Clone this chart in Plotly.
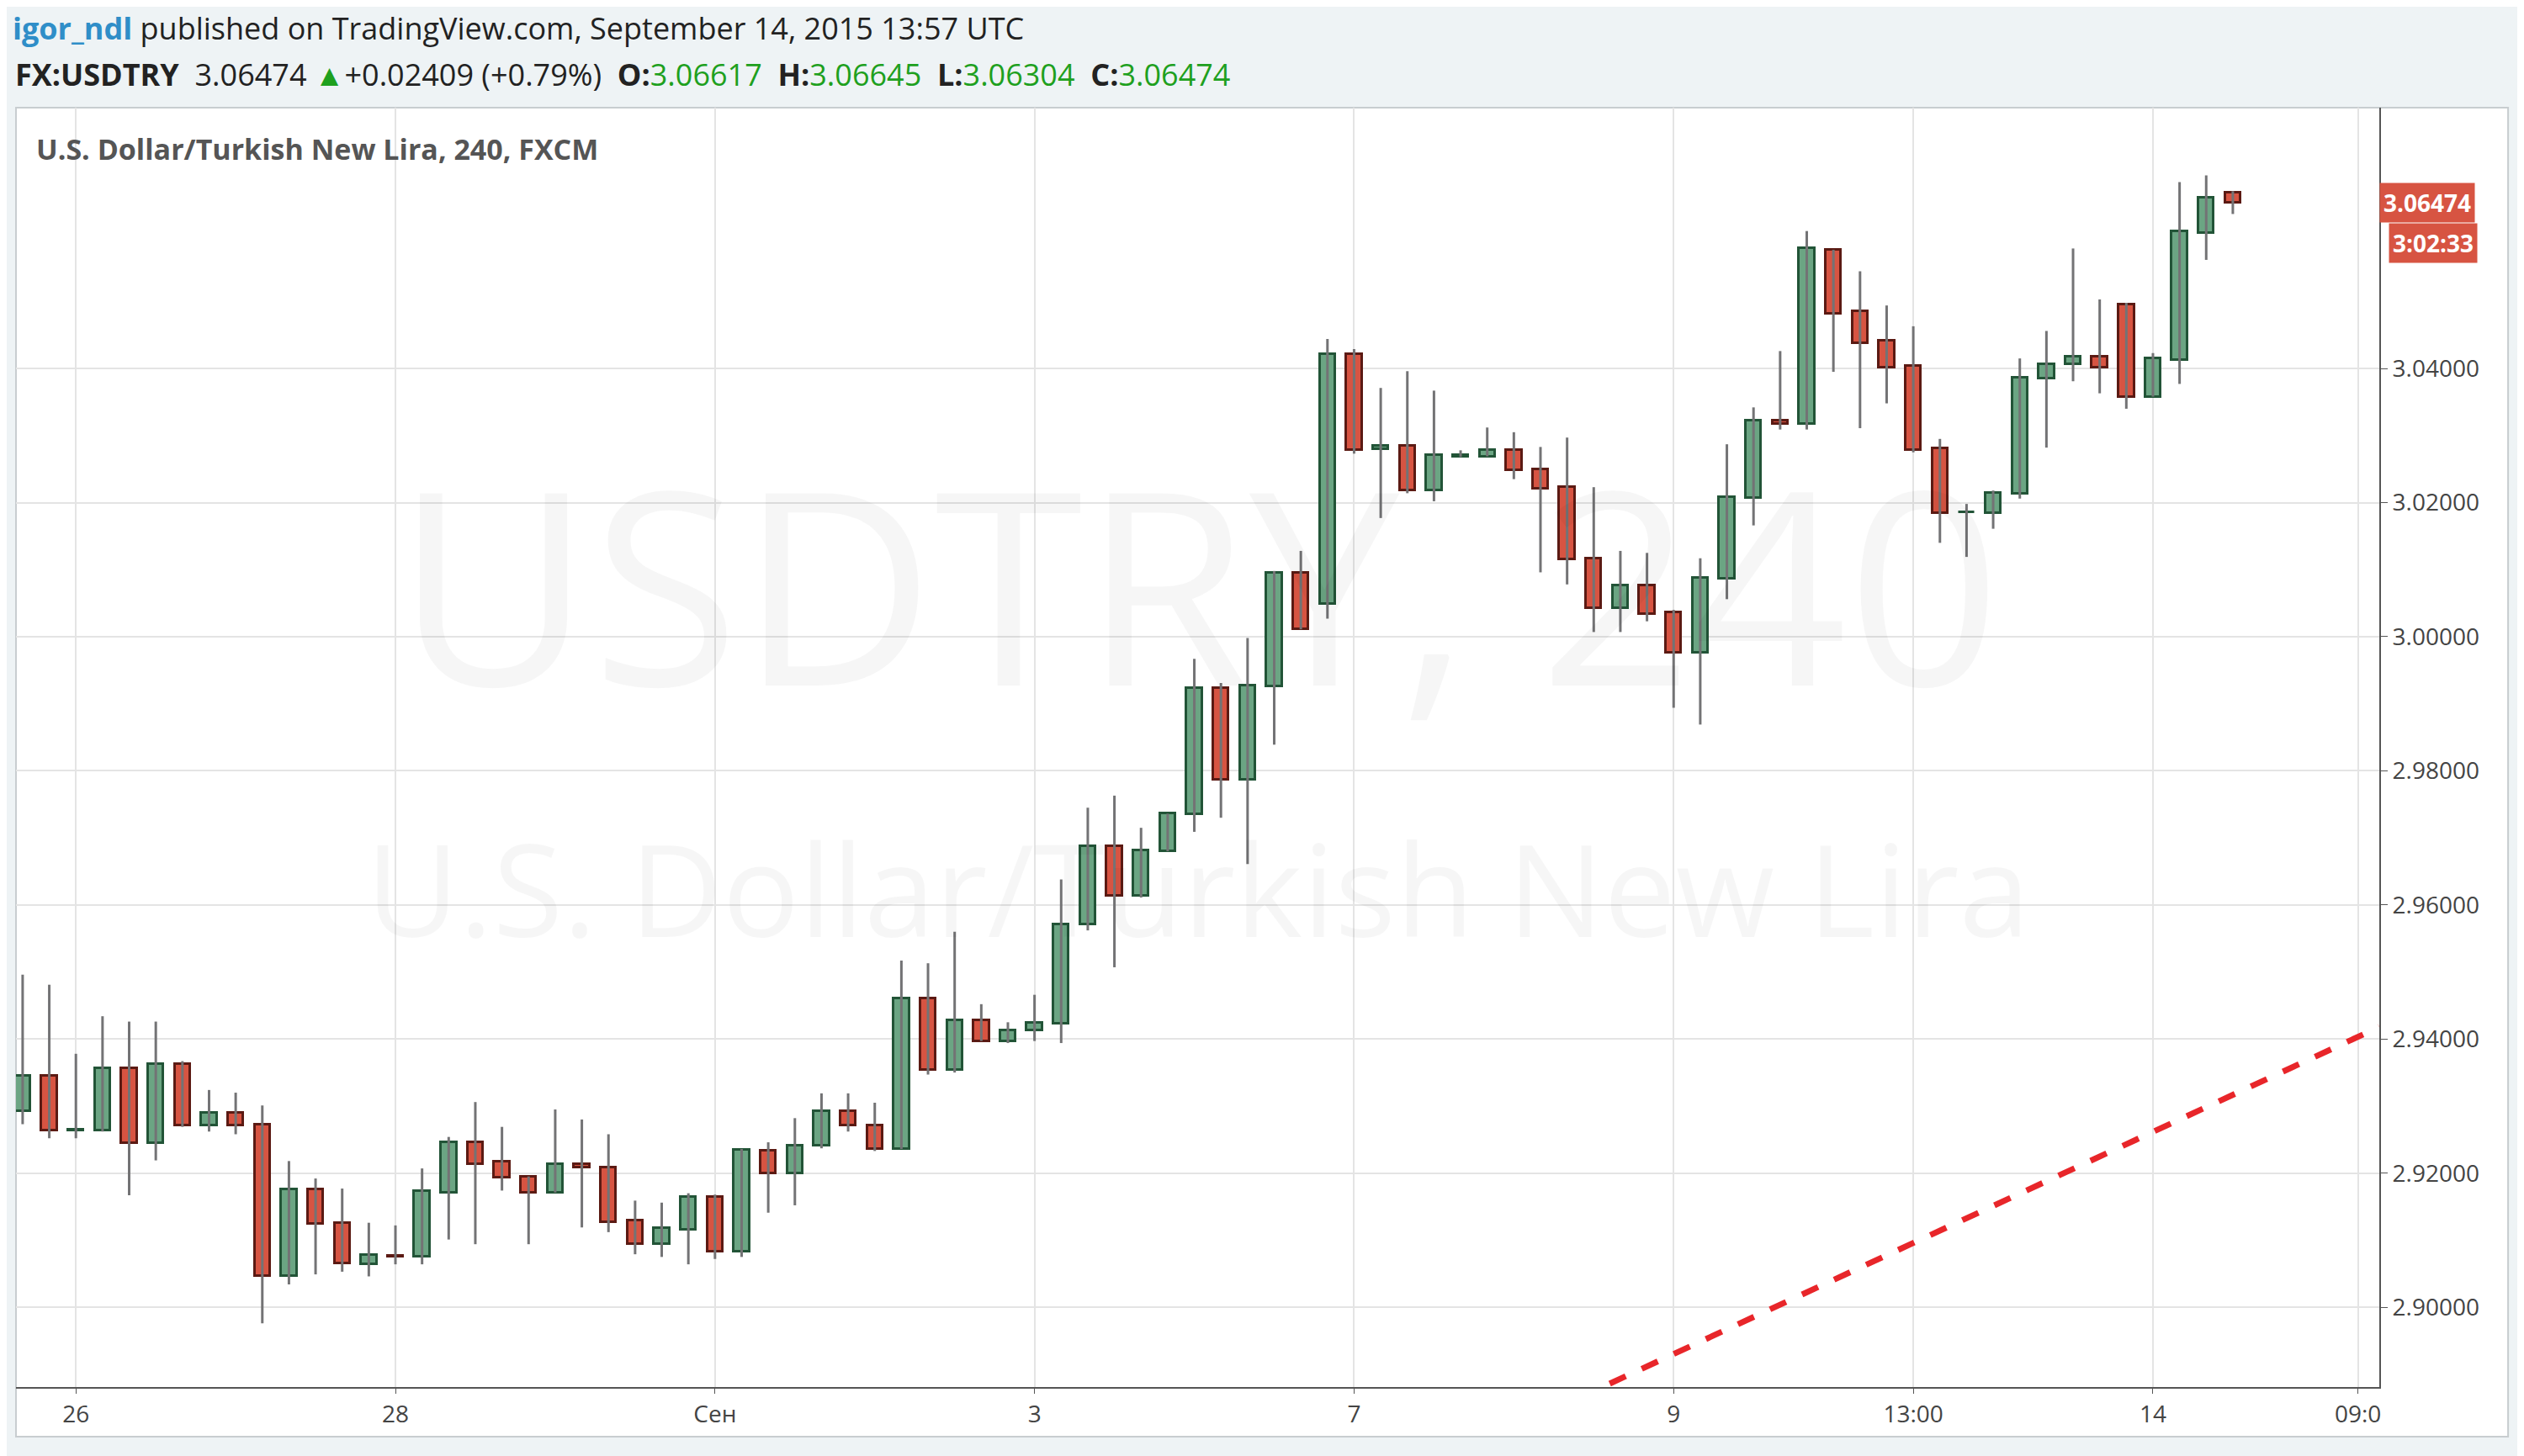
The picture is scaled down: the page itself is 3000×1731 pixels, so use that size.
import plotly.graph_objects as go

# 4h candles, USD/TRY, Aug 25 - Sep 14 2015 (weekends skipped)
opens = [2.9292, 2.9345, 2.9264, 2.9263, 2.9356, 2.9245, 2.9363, 2.9271, 2.9290, 2.9272,
         2.9046, 2.9176, 2.9125, 2.9064, 2.9077, 2.9075, 2.9171, 2.9246, 2.9217, 2.9195,
         2.9171, 2.9213, 2.9209, 2.9129, 2.9094, 2.9116, 2.9165, 2.9083, 2.9233, 2.9200,
         2.9241, 2.9293, 2.9271, 2.9236, 2.9461, 2.9354, 2.9428, 2.9397, 2.9413, 2.9423,
         2.9571, 2.9688, 2.9614, 2.9680, 2.9735, 2.9923, 2.9787, 2.9926, 3.0095, 3.0049,
         3.0421, 3.0280, 3.0285, 3.0218, 3.0269, 3.0269, 3.0278, 3.0249, 3.0223, 3.0117,
         3.0042, 3.0077, 3.0036, 2.9976, 3.0086, 3.0207, 3.0322, 3.0317, 3.0577, 3.0485,
         3.0441, 3.0404, 3.0281, 3.0185, 3.0184, 3.0213, 3.0385, 3.0406, 3.0418, 3.0495,
         3.0358, 3.0413, 3.0602, 3.06617]
highs = [2.9496, 2.9481, 2.9378, 2.9434, 2.9426, 2.9426, 2.9367, 2.9324, 2.9320, 2.9301,
         2.9218, 2.9192, 2.9177, 2.9126, 2.9122, 2.9207, 2.9254, 2.9306, 2.9269, 2.9195,
         2.9295, 2.9280, 2.9258, 2.9159, 2.9156, 2.9170, 2.9168, 2.9236, 2.9246, 2.9282,
         2.9319, 2.9319, 2.9305, 2.9517, 2.9513, 2.9560, 2.9452, 2.9425, 2.9466, 2.9638,
         2.9745, 2.9763, 2.9715, 2.9736, 2.9967, 2.9931, 2.9998, 3.0098, 3.0128, 3.0444,
         3.0429, 3.0371, 3.0396, 3.0367, 3.0278, 3.0312, 3.0305, 3.0283, 3.0297, 3.0223,
         3.0128, 3.0125, 3.0040, 3.0117, 3.0287, 3.0342, 3.0426, 3.0605, 3.0577, 3.0545,
         3.0494, 3.0463, 3.0295, 3.0198, 3.0218, 3.0415, 3.0456, 3.0579, 3.0503, 3.0498,
         3.0423, 3.0678, 3.0688, 3.06645]
lows = [2.9273, 2.9252, 2.9252, 2.9262, 2.9167, 2.9219, 2.9269, 2.9262, 2.9258, 2.8976,
        2.9034, 2.9049, 2.9053, 2.9046, 2.9064, 2.9064, 2.9101, 2.9094, 2.9174, 2.9094,
        2.9171, 2.9119, 2.9112, 2.9079, 2.9075, 2.9064, 2.9072, 2.9075, 2.9141, 2.9152,
        2.9237, 2.9262, 2.9233, 2.9236, 2.9347, 2.9350, 2.9397, 2.9394, 2.9397, 2.9394,
        2.9562, 2.9507, 2.9611, 2.9680, 2.9709, 2.9730, 2.9661, 2.9839, 3.0011, 3.0027,
        3.0273, 3.0177, 3.0214, 3.0202, 3.0268, 3.0269, 3.0235, 3.0096, 3.0078, 3.0007,
        3.0007, 3.0023, 2.9894, 2.9869, 3.0056, 3.0166, 3.0309, 3.0309, 3.0395, 3.0311,
        3.0348, 3.0275, 3.0140, 3.0119, 3.0161, 3.0206, 3.0282, 3.0381, 3.0363, 3.0340,
        3.0358, 3.0377, 3.0562, 3.06304]
closes = [2.9345, 2.9263, 2.9264, 2.9356, 2.9245, 2.9363, 2.9271, 2.9290, 2.9271, 2.9046,
          2.9176, 2.9124, 2.9065, 2.9078, 2.9076, 2.9173, 2.9246, 2.9214, 2.9193, 2.9171,
          2.9213, 2.9208, 2.9127, 2.9094, 2.9118, 2.9165, 2.9083, 2.9235, 2.9200, 2.9241,
          2.9293, 2.9271, 2.9236, 2.9461, 2.9354, 2.9428, 2.9397, 2.9413, 2.9424, 2.9571,
          2.9688, 2.9614, 2.9681, 2.9736, 2.9923, 2.9787, 2.9927, 3.0095, 3.0011, 3.0421,
          3.0279, 3.0285, 3.0218, 3.0271, 3.0271, 3.0278, 3.0248, 3.0221, 3.0115, 3.0042,
          3.0077, 3.0034, 2.9976, 3.0088, 3.0208, 3.0322, 3.0317, 3.0579, 3.0482, 3.0438,
          3.0402, 3.0279, 3.0184, 3.0186, 3.0215, 3.0386, 3.0407, 3.0418, 3.0402, 3.0358,
          3.0415, 3.0604, 3.0655, 3.06474]

tick_pos = [2, 14, 26, 38, 50, 62, 71, 80, 87.7]
tick_text = ["26", "28", "Сен", "3", "7", "9", "13:00", "14", "09:0"]
price_ticks = [2.90, 2.92, 2.94, 2.96, 2.98, 3.00, 3.02, 3.04]

trend_x = [59.6, 88.5]
trend_y = [2.8886, 2.9418]

last_price = 3.06474

UP_FILL, UP_LINE = "#6ba583", "#225437"
DN_FILL, DN_LINE = "#d75442", "#5b1a13"

idx = list(range(len(opens)))
is_up = [c >= o for o, c in zip(opens, closes)]

# wicks
wx, wy = [], []
for i, h, l in zip(idx, highs, lows):
    wx += [i, i, None]
    wy += [l, h, None]

fig = go.Figure()
fig.add_trace(go.Scatter(x=wx, y=wy, mode="lines", line=dict(color="#737375", width=3),
                         hoverinfo="skip", showlegend=False))
fig.add_trace(go.Bar(
    x=idx,
    y=[max(abs(c - o), 0.00012) for o, c in zip(opens, closes)],
    base=[min(o, c) for o, c in zip(opens, closes)],
    width=0.58,
    marker=dict(color=[UP_FILL if u else DN_FILL for u in is_up],
                line=dict(color=[UP_LINE if u else DN_LINE for u in is_up], width=3)),
    showlegend=False,
))
fig.add_trace(go.Scatter(x=trend_x, y=trend_y, mode="lines",
                         line=dict(color="#e8262a", width=7, dash="dash"),
                         showlegend=False, hoverinfo="skip"))

font = "Open Sans"
fig.update_layout(
    width=3000, height=1731,
    margin=dict(l=11, r=180, t=120, b=90, autoexpand=False),
    paper_bgcolor="#eef3f5", plot_bgcolor="white",
    font=dict(family=font, size=29, color="#4a4a4a"),
    bargap=0,
    xaxis=dict(range=[-0.25, 88.5], tickvals=tick_pos, ticktext=tick_text,
               showgrid=True, gridcolor="#e4e4e4", gridwidth=2, zeroline=False,
               showline=True, linecolor="#555", linewidth=2, ticks="outside",
               ticklen=6, tickcolor="#555", tickfont=dict(size=28, color="#444")),
    yaxis=dict(range=[2.8881, 3.0789], side="right", tickvals=price_ticks,
               tickformat=".5f", showgrid=True, gridcolor="#e4e4e4", gridwidth=2,
               zeroline=False, showline=True, linecolor="#555", linewidth=2,
               ticks="outside", ticklen=8, tickcolor="#555",
               tickfont=dict(size=28, color="#444")),
    shapes=[
        dict(type="rect", xref="paper", yref="paper", x0=0, x1=1.0545, y0=-0.0388, y1=1,
             fillcolor="white", line=dict(color="#c8cdd0", width=2), layer="below"),
    ],
)

fig.add_annotation(xref="paper", yref="paper", x=0.5, y=0.63, showarrow=False,
                   text="USDTRY, 240", font=dict(size=320, color="rgba(0,0,0,0.035)"))
fig.add_annotation(xref="paper", yref="paper", x=0.5, y=0.39, showarrow=False,
                   text="U.S. Dollar/Turkish New Lira", font=dict(size=152, color="rgba(0,0,0,0.035)"))
fig.add_annotation(xref="paper", yref="paper", x=0.008, y=0.968, xanchor="left", yanchor="middle",
                   showarrow=False, text="<b>U.S. Dollar/Turkish New Lira, 240, FXCM</b>",
                   font=dict(size=34, color="#555"))
fig.add_annotation(xref="paper", yref="paper", x=-0.002, y=1.062, xanchor="left", yanchor="middle",
                   showarrow=False,
                   text="<span style='color:#2f8ec8'><b>igor_ndl</b></span> published on TradingView.com, September 14, 2015 13:57 UTC",
                   font=dict(size=36, color="#222"))
fig.add_annotation(xref="paper", yref="paper", x=-0.001, y=1.026, xanchor="left", yanchor="middle",
                   showarrow=False,
                   text=("<b>FX:USDTRY</b>  3.06474 <span style='color:#1ea01e'>▲</span>+0.02409 (+0.79%)  "
                         "<b>O:</b><span style='color:#1ea01e'>3.06617</span>  "
                         "<b>H:</b><span style='color:#1ea01e'>3.06645</span>  "
                         "<b>L:</b><span style='color:#1ea01e'>3.06304</span>  "
                         "<b>C:</b><span style='color:#1ea01e'>3.06474</span>"),
                   font=dict(size=36, color="#222"))
# price labels on axis
fig.add_annotation(xref="paper", yref="y", x=1.0, y=last_price, xanchor="left", yanchor="middle",
                   showarrow=False, text="<b>%.5f</b>" % last_price, bgcolor="#d75442",
                   font=dict(size=28, color="white"), borderpad=4)
fig.add_annotation(xref="paper", yref="y", x=1.004, y=last_price, yshift=-48, xanchor="left",
                   yanchor="middle", showarrow=False, text="<b>3:02:33</b>", bgcolor="#d75442",
                   font=dict(size=28, color="white"), borderpad=4)

fig.write_html("out.html")
